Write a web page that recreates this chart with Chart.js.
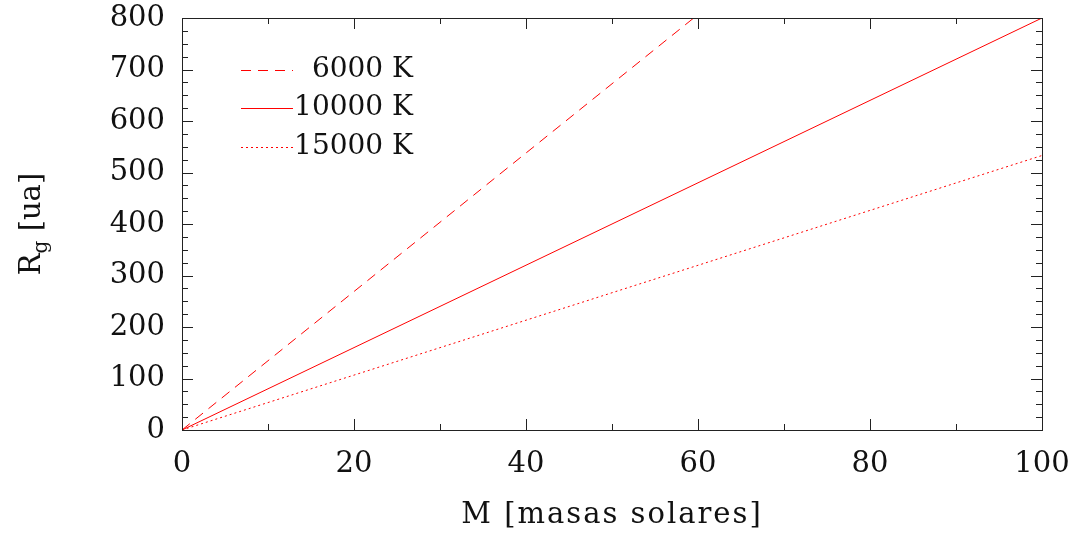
<!DOCTYPE html>
<html>
<head>
<meta charset="utf-8">
<script src="https://cdn.jsdelivr.net/npm/chart.js@4/dist/chart.umd.min.js"></script>
<style>
html,body{margin:0;padding:0;background:#fff;}
#wrap{width:1074px;height:536px;}
</style>
</head>
<body>
<div id="wrap"><canvas id="c" width="1074" height="536"></canvas></div>
<script>
// ---- data ----
const seriesNames = ['6000 K', '10000 K', '15000 K'];
const mass6000 = [0, 59.5];
const rg6000 = [0, 800];
const mass10000 = [0, 100];
const rg10000 = [0, 800];
const mass15000 = [0, 100];
const rg15000 = [0, 533];
const xTicks = [0, 20, 40, 60, 80, 100];
const yTicks = [0, 100, 200, 300, 400, 500, 600, 700, 800];
const xTitle = 'M [masas solares]';
const yTitleMain = 'R';
const yTitleSub = 'g';
const yTitleRest = ' [ua]';

const FONT = '"DejaVu Serif", serif';
const FS = 29;
const RED = '#ff0000';
const dashes = [[10, 7], [], [2, 3]];

function pts(xs, ys) { return xs.map((x, i) => ({x: x, y: ys[i]})); }
const seriesData = [pts(mass6000, rg6000), pts(mass10000, rg10000), pts(mass15000, rg15000)];

const ticksPlugin = {
  id: 'inTicks',
  afterDraw(chart) {
    const ctx = chart.ctx;
    const a = chart.chartArea;
    const xs = chart.scales.x, ys = chart.scales.y;
    ctx.save();
    ctx.strokeStyle = '#222';
    ctx.lineWidth = 1;
    ctx.beginPath();
    for (let v = 0; v <= 100; v += 10) {
      const px = Math.round(xs.getPixelForValue(v)) + 0.5;
      const len = (v % 20 === 0) ? 11 : 6;
      ctx.moveTo(px, a.bottom); ctx.lineTo(px, a.bottom - len);
      ctx.moveTo(px, a.top); ctx.lineTo(px, a.top + len);
    }
    for (let v = 0; v <= 800; v += 25) {
      const py = Math.round(ys.getPixelForValue(v)) + 0.5;
      const len = (v % 100 === 0) ? 11 : 6;
      ctx.moveTo(a.left, py); ctx.lineTo(a.left + len, py);
      ctx.moveTo(a.right, py); ctx.lineTo(a.right - len, py);
    }
    ctx.stroke();
    ctx.strokeRect(Math.round(a.left) + 0.5, Math.round(a.top) + 0.5, Math.round(a.right - a.left), Math.round(a.bottom - a.top));

    // legend
    ctx.fillStyle = '#111';
    ctx.font = '28px ' + FONT;
    ctx.textAlign = 'right';
    ctx.textBaseline = 'middle';
    const ly = [70, 108, 147];
    for (let i = 0; i < 3; i++) {
      const ds = chart.data.datasets[i];
      ctx.strokeStyle = RED;
      ctx.setLineDash(dashes[i]);
      ctx.beginPath();
      ctx.moveTo(241, ly[i] + 0.5); ctx.lineTo(293, ly[i] + 0.5);
      ctx.stroke();
      ctx.setLineDash([]);
      ctx.fillText(ds.label, 413, ly[i]);
    }

    // x title
    ctx.font = FS + 'px ' + FONT;
    ctx.textAlign = 'center';
    ctx.textBaseline = 'middle';
    ctx.letterSpacing = '2px';
    ctx.fillText(xTitle, (a.left + a.right) / 2, 515);
    ctx.letterSpacing = '0px';

    // y title with subscript
    ctx.translate(30, (a.top + a.bottom) / 2);
    ctx.rotate(-Math.PI / 2);
    ctx.textAlign = 'left';
    ctx.textBaseline = 'alphabetic';
    ctx.font = FS + 'px ' + FONT;
    const wR = ctx.measureText(yTitleMain).width;
    ctx.font = '20px ' + FONT;
    const wG = ctx.measureText(yTitleSub).width;
    ctx.font = FS + 'px ' + FONT;
    const wRest = ctx.measureText(yTitleRest).width;
    const total = wR + wG + wRest;
    let x0 = -total / 2;
    const base = 10;
    ctx.fillText(yTitleMain, x0, base);
    ctx.font = '20px ' + FONT;
    ctx.fillText(yTitleSub, x0 + wR, base + 7);
    ctx.font = FS + 'px ' + FONT;
    ctx.fillText(yTitleRest, x0 + wR + wG, base);
    ctx.restore();
  }
};

new Chart(document.getElementById('c'), {
  type: 'line',
  data: {
    datasets: seriesData.map((d, i) => ({
      label: seriesNames[i],
      data: d,
      borderColor: RED,
      borderWidth: 1,
      borderDash: dashes[i],
      pointRadius: 0,
      fill: false,
      tension: 0
    }))
  },
  options: {
    responsive: false,
    animation: false,
    devicePixelRatio: 1,
    layout: {padding: {left: 0, right: 32, top: 18, bottom: 0}},
    plugins: {legend: {display: false}, tooltip: {enabled: false}},
    scales: {
      x: {
        type: 'linear', min: 0, max: 100,
        afterBuildTicks(s) { s.ticks = xTicks.map(v => ({value: v})); },
        afterFit(s) { s.height = 106; s.paddingLeft = 0; s.paddingRight = 0; },
        grid: {display: false, drawTicks: false},
        border: {display: false},
        ticks: {font: {family: FONT, size: FS}, color: '#111', padding: 17, maxRotation: 0}
      },
      y: {
        type: 'linear', min: 0, max: 800,
        afterBuildTicks(s) { s.ticks = yTicks.map(v => ({value: v})); },
        afterFit(s) { s.width = 182; s.paddingTop = 0; s.paddingBottom = 0; },
        grid: {display: false, drawTicks: false},
        border: {display: false},
        ticks: {font: {family: FONT, size: FS}, color: '#111', padding: 17}
      }
    }
  },
  plugins: [ticksPlugin]
});
</script>
</body>
</html>
